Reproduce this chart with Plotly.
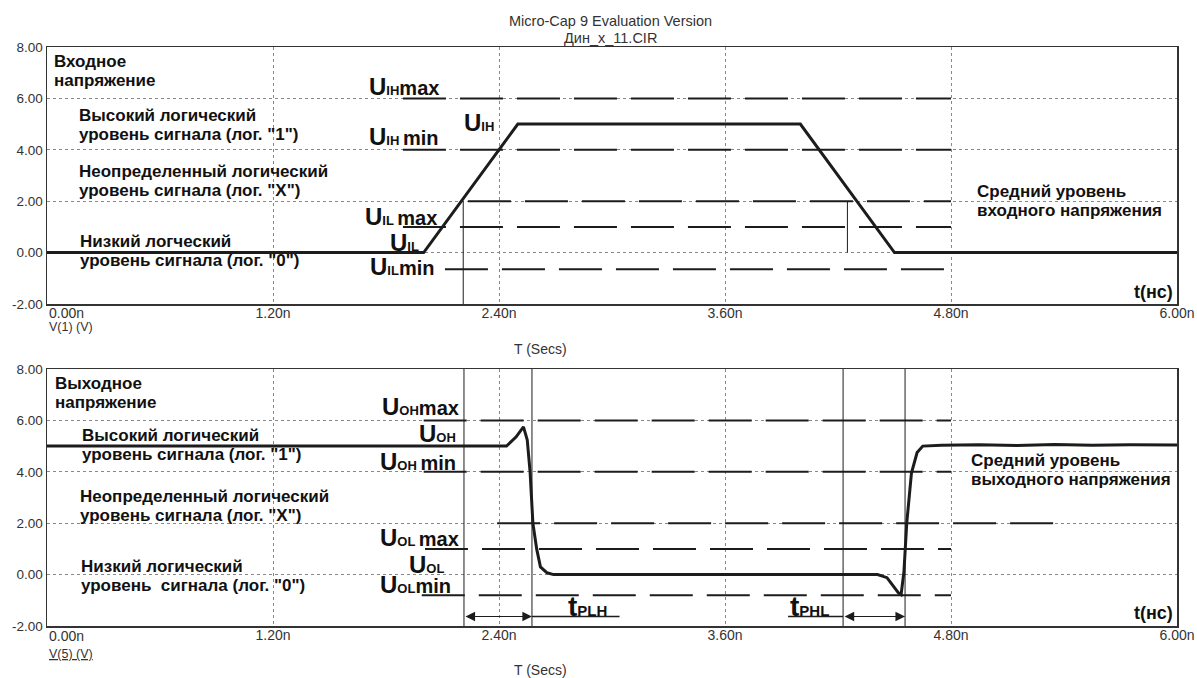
import plotly.graph_objects as go

# ---------------- data ----------------
x_ticks = [0.0, 1.2, 2.4, 3.6, 4.8, 6.0]
x_tick_text = ["", "1.20n", "2.40n", "3.60n", "4.80n", "6.00n"]
x_first_label = "0.00n"
y_ticks = [-2, 0, 2, 4, 6, 8]
y_tick_text = ["-2.00", "0.00", "2.00", "4.00", "6.00", "8.00"]

# input voltage V(1), ns / V
in_t = [0.0, 2.0, 2.5, 4.0, 4.5, 6.0]
in_v = [0.0, 0.0, 5.0, 5.0, 0.0, 0.0]

# output voltage V(5), ns / V
out_t = [0.0, 2.44, 2.49, 2.53, 2.55, 2.565, 2.58, 2.60, 2.62, 2.655, 2.69,
         4.41, 4.46, 4.49, 4.52, 4.535, 4.55, 4.565, 4.59, 4.62, 4.65,
         4.75, 4.95, 5.15, 5.35, 5.55, 5.75, 6.0]
out_v = [5.0, 5.0, 5.35, 5.75, 5.24, 4.0, 2.0, 1.0, 0.3, 0.07, 0.0,
         0.0, -0.12, -0.4, -0.7, -0.78, 0.1, 2.0, 3.95, 4.75, 5.0,
         5.03, 5.05, 5.02, 5.06, 5.03, 5.05, 5.04]

# dashed reference levels (V) and their spans (ns)
top_levels = [6.0, 4.0, 2.0, 1.0, -0.65]
top_start = [1.89, 1.89, 2.235, 1.89, 2.113]
top_end = [4.8, 4.8, 4.8, 4.8, 4.8]
bot_levels = [6.0, 4.0, 2.0, 1.0, -0.8]
bot_start = [2.0, 2.0, 2.39, 2.007, 1.99]
bot_end = [4.8, 4.8, 5.36, 4.8, 4.8]

# thin vertical markers
top_mark_t = [2.21, 4.25]
top_mark_from = [2.0, 2.0]
top_mark_to = [-2.0, 0.0]
bot_mark_t = [2.214, 2.575, 4.227, 4.556]
bot_mark_from = [8.0, 8.0, 8.0, 8.0]
bot_mark_to = [-2.0, -2.0, -2.0, -2.0]

# delay arrows
arrow_level = -1.63
tplh_span = [2.214, 2.575]
tphl_span = [4.227, 4.556]
tplh_under = [2.575, 3.04]
tphl_under = [3.935, 4.227]

# ---------------- figure ----------------
W, H = 1197, 678
X0, X1 = 47, 1177
TOP_Y0, TOP_Y1 = 47, 304
BOT_Y0, BOT_Y1 = 369, 626

INK = "#1c1c1c"
FONT = "Liberation Sans, Arial, sans-serif"

fig = go.Figure()


def line(xs, ys, xa, ya, width, dash="solid", color=INK):
    fig.add_trace(go.Scatter(x=xs, y=ys, xaxis=xa, yaxis=ya, mode="lines",
                             line=dict(color=color, width=width, dash=dash),
                             hoverinfo="skip", showlegend=False))


DASH = "43px,14px"

# top panel
for lv, s, e in zip(top_levels, top_start, top_end):
    line([s, e], [lv, lv], "x", "y", 2, DASH)
for t, a, b in zip(top_mark_t, top_mark_from, top_mark_to):
    line([t, t], [a, b], "x", "y", 1)
line(in_t, in_v, "x", "y", 3)

# bottom panel
for lv, s, e in zip(bot_levels, bot_start, bot_end):
    line([s, e], [lv, lv], "x2", "y2", 2, DASH)
for t, a, b in zip(bot_mark_t, bot_mark_from, bot_mark_to):
    line([t, t], [a, b], "x2", "y2", 1)
line(tplh_under, [arrow_level] * 2, "x2", "y2", 1.5)
line(tphl_under, [arrow_level] * 2, "x2", "y2", 1.5)
line(out_t, out_v, "x2", "y2", 3)

axis_common = dict(range=[0, 6], tickvals=x_ticks, ticktext=x_tick_text,
                   showline=True, mirror=True, linecolor="#333", linewidth=1.5,
                   showgrid=True, gridcolor="#888", griddash="dot", gridwidth=1,
                   zeroline=False, ticks="", fixedrange=True, automargin=False,
                   ticklabelstandoff=-4,
                   tickfont=dict(family=FONT, size=14, color="#333"))
yaxis_common = dict(range=[-2, 8], tickvals=y_ticks, ticktext=y_tick_text,
                    showline=True, mirror=True, linecolor="#333", linewidth=1.5,
                    showgrid=True, gridcolor="#888", griddash="dot", gridwidth=1,
                    zeroline=False, ticks="", fixedrange=True, automargin=False,
                    tickfont=dict(family=FONT, size=13.5, color="#333"))

fig.update_layout(
    width=W, height=H, margin=dict(l=0, r=0, t=0, b=0, autoexpand=False),
    paper_bgcolor="white", plot_bgcolor="white",
    xaxis=dict(axis_common, domain=[X0 / W, X1 / W], anchor="y"),
    yaxis=dict(yaxis_common, domain=[1 - TOP_Y1 / H, 1 - TOP_Y0 / H], anchor="x"),
    xaxis2=dict(axis_common, domain=[X0 / W, X1 / W], anchor="y2"),
    yaxis2=dict(yaxis_common, domain=[1 - BOT_Y1 / H, 1 - BOT_Y0 / H], anchor="x2"),
    showlegend=False,
)

anns = []


def txt(text, x, y, xr, yr, size=17, xanchor="left", yanchor="middle", bold=True,
        color="#111", align="left"):
    anns.append(dict(text=("<b>%s</b>" % text) if bold else text, x=x, y=y,
                     xref=xr, yref=yr, xanchor=xanchor, yanchor=yanchor,
                     showarrow=False, align=align,
                     font=dict(family=FONT, size=size, color=color)))


def ulab(main, sub, tail, x, y, xr, yr):
    s = ("<span style='font-size:24px'>%s</span>"
         "<span style='font-size:13px'>%s</span>"
         "<span style='font-size:20px'>%s</span>") % (main, sub, tail)
    txt(s, x, y, xr, yr, size=20, xanchor="right")


def px2t(px):
    return (px - X0) / ((X1 - X0) / 6.0)


def py(px):
    return 1 - px / H


def two_lines(l1, l2, xpx, y1px, y2px):
    txt(l1, xpx / W, py(y1px), "paper", "paper")
    txt(l2, xpx / W, py(y2px), "paper", "paper")


# header
txt("Micro-Cap 9 Evaluation Version", 610 / W, py(21), "paper", "paper",
    size=14.5, xanchor="center", bold=False, color="#333")
txt("Дин_х_11.CIR", 610 / W, py(38), "paper", "paper",
    size=14.5, xanchor="center", bold=False, color="#333")

# first x tick labels (left-aligned at the axis origin)
txt(x_first_label, 0, py(313), "x", "paper", size=14, bold=False, color="#333")
txt(x_first_label, 0, py(636), "x2", "paper", size=14, bold=False, color="#333")

txt("V(1) (V)", X0 / W, py(327), "paper", "paper", size=12.5, bold=False, color="#333")
txt("T (Secs)", 540 / W, py(349), "paper", "paper", size=14, xanchor="center",
    bold=False, color="#333")
txt("<span style='text-decoration:underline'>V(5) (V)</span>", X0 / W, py(654),
    "paper", "paper", size=12.5, bold=False, color="#333")
txt("T (Secs)", 540 / W, py(670), "paper", "paper", size=14, xanchor="center",
    bold=False, color="#333")

# top panel text
two_lines("Входное", "напряжение", 52, 62, 81)
two_lines("Высокий логический", "уровень сигнала (лог. \"1\")", 77, 115, 134)
two_lines("Неопределенный логический", "уровень сигнала (лог. \"X\")", 77, 171, 190)
two_lines("Низкий логческий", "уровень сигнала (лог. \"0\")", 78, 241, 260)
two_lines("Средний уровень", "входного напряжения", 975, 191, 210)
txt("t(нс)", 5.99, -1.53, "x", "y", size=18, xanchor="right")
ulab("U", "IH", "max", px2t(441), 6.48, "x", "y")
ulab("U", "IH", "", px2t(496), 5.08, "x", "y")
ulab("U", "IH ", "min", px2t(441), 4.5, "x", "y")
ulab("U", "IL ", "max", px2t(439), 1.42, "x", "y")
ulab("U", "IL", "", px2t(421), 0.41, "x", "y")
ulab("U", "IL", "min", px2t(436), -0.56, "x", "y")

# bottom panel text
two_lines("Выходное", "напряжение", 53, 383, 402)
two_lines("Высокий логический", "уровень сигнала (лог. \"1\")", 80, 435, 454)
two_lines("Неопределенный логический", "уровень сигнала (лог. \"X\")", 78, 496, 515)
two_lines("Низкий логический", "уровень  сигнала (лог. \"0\")", 79, 566, 585)
two_lines("Средний уровень", "выходного напряжения", 969, 460, 479)
txt("t(нс)", 5.99, -1.48, "x2", "y2", size=18, xanchor="right")
ulab("U", "OH", "max", px2t(461), 6.54, "x2", "y2")
ulab("U", "OH", "", px2t(458), 5.49, "x2", "y2")
ulab("U", "OH ", "min", px2t(458), 4.4, "x2", "y2")
ulab("U", "OL ", "max", px2t(461), 1.44, "x2", "y2")
ulab("U", "OL", "", px2t(446), 0.39, "x2", "y2")
ulab("U", "OL", "min", px2t(453), -0.39, "x2", "y2")

tl = ("<span style='font-size:28px'>t</span>"
      "<span style='font-size:15px'>%s</span>")
txt(tl % "PLH", px2t(566), -1.25, "x2", "y2", size=15)
txt(tl % "PHL", px2t(788), -1.25, "x2", "y2", size=15)

# double arrows
for span in (tplh_span, tphl_span):
    anns.append(dict(x=span[1], y=arrow_level, ax=span[0], ay=arrow_level,
                     xref="x2", yref="y2", axref="x2", ayref="y2", text="",
                     showarrow=True, arrowhead=2, arrowside="end+start",
                     arrowsize=1.6, arrowwidth=1.2, arrowcolor=INK,
                     standoff=0, startstandoff=0))

fig.update_layout(annotations=anns)
fig.write_html("out.html",
               config={"displayModeBar": False, "staticPlot": True},
               post_script="document.body.style.margin='0px';"
                           "document.body.style.overflow='hidden';")
